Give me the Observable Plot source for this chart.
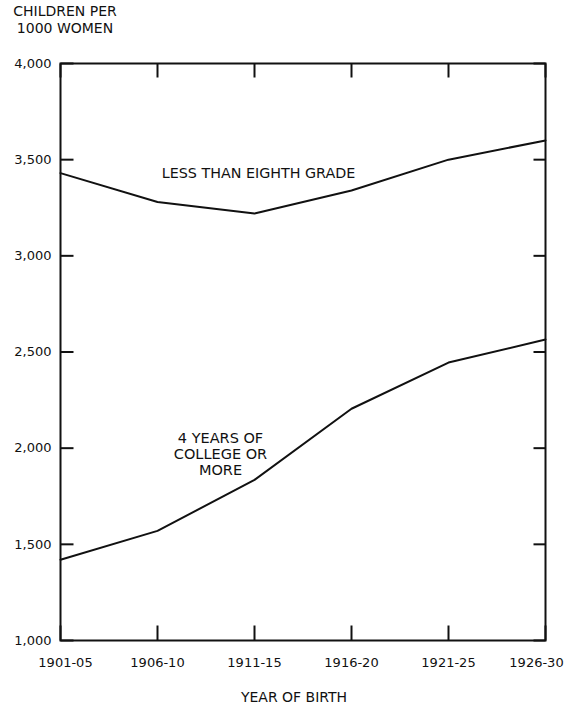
<!DOCTYPE html>
<html><head><meta charset="utf-8">
<script src="https://cdn.jsdelivr.net/npm/d3@7"></script>
<script src="https://cdn.jsdelivr.net/npm/@observablehq/plot@0.6"></script>
<style>
body{margin:0;background:#fff;font-family:"DejaVu Sans",sans-serif;}
#wrap{position:relative;width:579px;height:705px;}
#title{position:absolute;left:5px;top:3px;width:120px;text-align:center;font-size:14px;line-height:17px;color:#111;white-space:nowrap;}
</style></head><body>
<div id="wrap"><div id="title">CHILDREN PER<br>1000 WOMEN</div><div id="chart"></div></div>
<script>
const years = ["1901-05","1906-10","1911-15","1916-20","1921-25","1926-30"];
const lessThanEighth = [3430, 3280, 3220, 3340, 3500, 3600];
const college4 = [1420, 1570, 1835, 2205, 2445, 2565];
const yTicks = [1000, 1500, 2000, 2500, 3000, 3500, 4000];
const seriesNames = ["LESS THAN EIGHTH GRADE", "4 YEARS OF\nCOLLEGE OR\nMORE"];
const labelYear = ["1911-15", "1911-15"];
const labelValue = [3430, 1970];
const xTitle = "YEAR OF BIRTH";

const rows = [];
years.forEach((y, i) => {
  rows.push({year: y, value: lessThanEighth[i], series: seriesNames[0]});
  rows.push({year: y, value: college4[i], series: seriesNames[1]});
});
const labels = seriesNames.map((s, i) => ({text: s, year: labelYear[i], value: labelValue[i]}));

const ink = "#111";
// tick-shaped symbols (pixel offsets from the scaled point), pointing into the frame
const tickSym = (dx, dy) => ({draw(ctx) { ctx.moveTo(0, 0); ctx.lineTo(dx, dy); }});
const fmt = d3.format(",");
const first = years[0], last = years[years.length - 1];
const yMin = yTicks[0], yMax = yTicks[yTicks.length - 1];
const tickStyle = {r: 5, fill: "none", stroke: ink, strokeWidth: 2};

const chart = Plot.plot({
  width: 579,
  height: 705,
  marginLeft: 60,
  marginRight: 34,
  marginTop: 63,
  marginBottom: 65,
  style: {fontFamily: "DejaVu Sans", fontSize: "13px", color: ink, background: "#fff"},
  x: {type: "point", domain: years, padding: 0, label: null},
  y: {domain: [yMin, yMax], ticks: yTicks, label: null},
  marks: [
    Plot.frame({stroke: ink, strokeWidth: 2}),
    Plot.dot(yTicks, {x: () => first, y: d => d, symbol: tickSym(13, 0), ...tickStyle}),
    Plot.dot(yTicks, {x: () => last, y: d => d, symbol: tickSym(-12, 0), ...tickStyle}),
    Plot.dot(years, {x: d => d, y: () => yMax, symbol: tickSym(0, 14), ...tickStyle}),
    Plot.dot(years, {x: d => d, y: () => yMin, symbol: tickSym(0, -15), ...tickStyle}),
    Plot.axisY(yTicks, {anchor: "left", tickSize: 0, tickPadding: 9, tickFormat: fmt, fill: ink, fontSize: 13, label: null}),
    Plot.axisX(years.slice(1, -1), {anchor: "bottom", tickSize: 0, tickPadding: 17, fill: ink, fontSize: 13, label: null}),
    Plot.axisX([first], {anchor: "bottom", tickSize: 0, tickPadding: 17, dx: 5, fill: ink, fontSize: 13, label: null}),
    Plot.axisX([last], {anchor: "bottom", tickSize: 0, tickPadding: 17, dx: -9, fill: ink, fontSize: 13, label: null}),
    Plot.text([xTitle], {text: d => d, frameAnchor: "bottom", lineAnchor: "middle", dy: 57, dx: -9, fill: ink, fontSize: 14}),
    Plot.line(rows, {x: "year", y: "value", z: "series", stroke: ink, strokeWidth: 2}),
    Plot.text(labels.slice(0, 1), {x: "year", y: "value", text: "text", dx: 4, fill: ink, fontSize: 14.3}),
    Plot.text(labels.slice(1), {x: "year", y: "value", text: "text", dx: -34, fill: ink, fontSize: 14.5, lineHeight: 1.1})
  ]
});
document.getElementById("chart").appendChild(chart);
</script>
</body></html>
